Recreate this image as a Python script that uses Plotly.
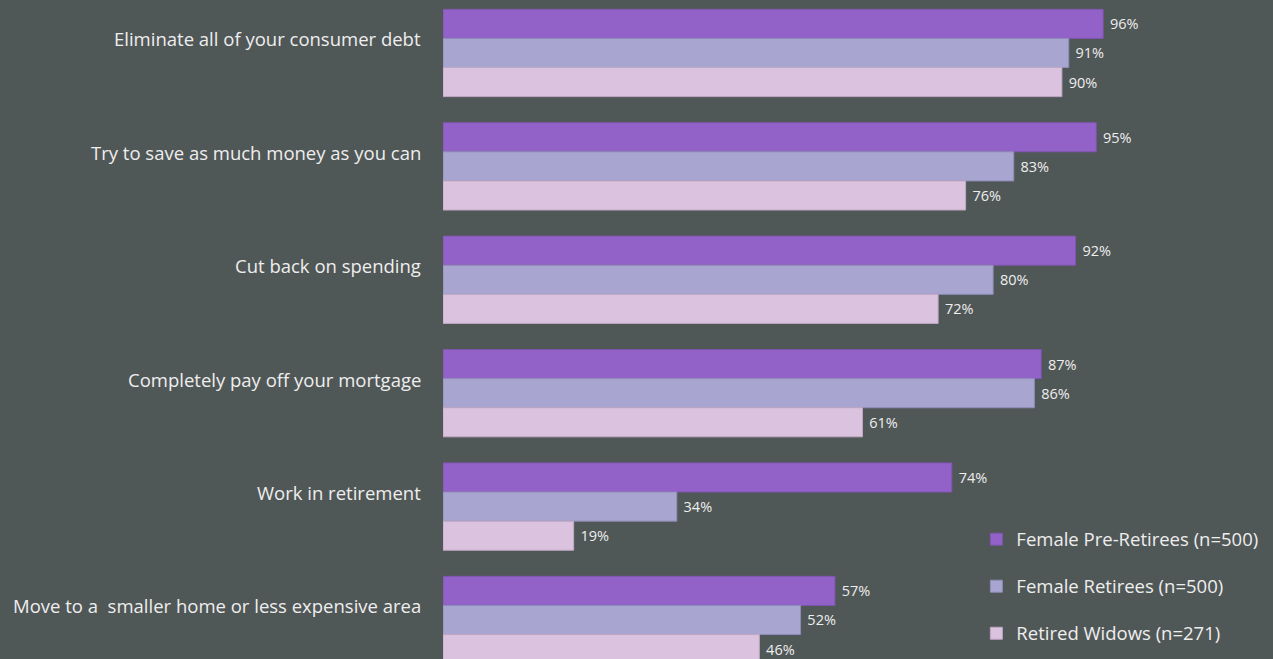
import plotly.graph_objects as go

categories = [
    "Eliminate all of your consumer debt",
    "Try to save as much money as you can",
    "Cut back on spending",
    "Completely pay off your mortgage",
    "Work in retirement",
    "Move to a  smaller home or less expensive area",
]
series_names = [
    "Female Pre-Retirees (n=500)",
    "Female Retirees (n=500)",
    "Retired Widows (n=271)",
]
pre_retirees = [96, 95, 92, 87, 74, 57]
retirees = [91, 83, 80, 86, 34, 52]
widows = [90, 76, 72, 61, 19, 46]

colors = ["#9362C9", "#A8A6D0", "#DBC3DF"]
line_colors = ["#7E55AE", "#8F8DB8", "#BFA8C4"]
BG = "#505757"
FONT = "Open Sans"

fig = go.Figure()
for i, (name, vals) in enumerate(zip(series_names, [pre_retirees, retirees, widows])):
    fig.add_trace(go.Bar(
        y=categories, x=vals, orientation="h", name=name,
        marker=dict(color=colors[i], line=dict(color=line_colors[i], width=1)),
        text=[f"\u00a0{v}%" for v in vals], textposition="outside",
        textfont=dict(color="#EEEEEE", size=14.5, family=FONT),
        cliponaxis=False, legendgroup=f"g{i}",
    ))

# category labels, sitting slightly above each group's centre as in the original
for cat in categories:
    fig.add_annotation(
        x=0, xref="paper", y=cat, yref="y", text=cat, showarrow=False,
        xanchor="right", yanchor="middle", xshift=-20, yshift=14,
        font=dict(size=18.5, color="#EEEEEE", family=FONT),
    )

fig.update_layout(
    width=1273, height=659,
    paper_bgcolor=BG, plot_bgcolor=BG,
    margin=dict(l=443, r=0, t=0, b=0),
    barmode="group", bargap=0.23, bargroupgap=0,
    font=dict(family=FONT, color="#EEEEEE"),
    showlegend=True,
    legend=dict(
        x=0.6426, y=0.21, xanchor="left", yanchor="top",
        font=dict(size=18.5, color="#EEEEEE", family=FONT),
        bgcolor="rgba(0,0,0,0)", tracegroupgap=20, traceorder="grouped",
        itemwidth=30,
    ),
)
fig.update_xaxes(range=[0, 120.7], visible=False, showgrid=False)
fig.update_yaxes(
    categoryorder="array", categoryarray=categories,
    range=[5.344, -0.467], showgrid=False, zeroline=False, showline=False,
    ticks="", showticklabels=False,
)
fig.write_html("out.html")
